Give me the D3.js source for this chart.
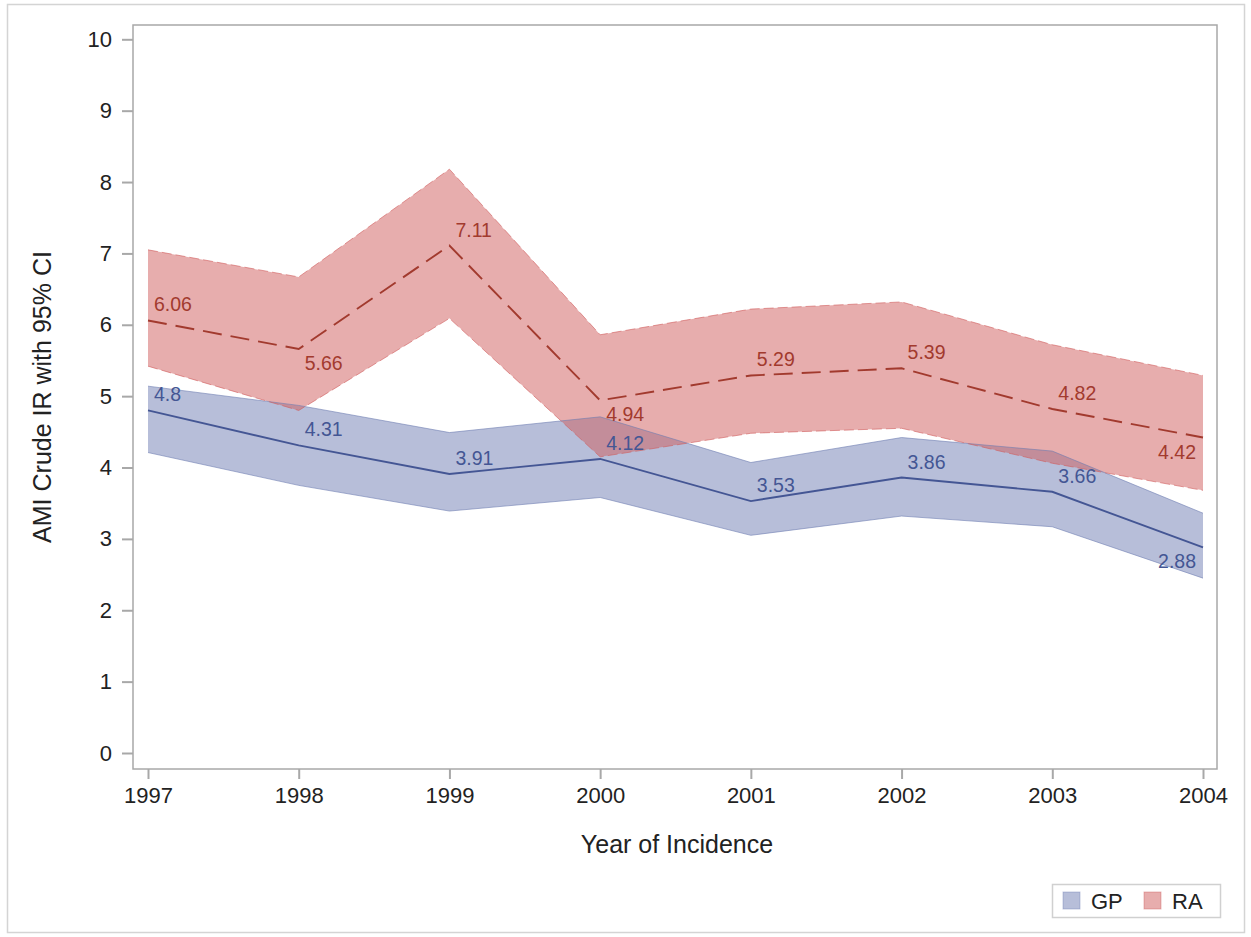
<!DOCTYPE html>
<html><head><meta charset="utf-8">
<script src="https://cdn.jsdelivr.net/npm/d3@7/dist/d3.min.js"></script>
<style>body{margin:0;background:#fff;} text{font-family:"Liberation Sans",Arial,sans-serif;}</style>
</head><body>
<svg id="c" width="1251" height="937"></svg>
<script>
const years = [1997, 1998, 1999, 2000, 2001, 2002, 2003, 2004];
const gpRate  = [4.8, 4.31, 3.91, 4.12, 3.53, 3.86, 3.66, 2.88];
const gpLower = [4.21, 3.75, 3.39, 3.58, 3.05, 3.32, 3.17, 2.45];
const gpUpper = [5.14, 4.87, 4.49, 4.71, 4.07, 4.42, 4.23, 3.36];
const raRate  = [6.06, 5.66, 7.11, 4.94, 5.29, 5.39, 4.82, 4.42];
const raLower = [5.42, 4.80, 6.09, 4.15, 4.48, 4.55, 4.06, 3.68];
const raUpper = [7.05, 6.67, 8.18, 5.86, 6.22, 6.32, 5.72, 5.29];
const gpLabelPos = ["above","above","above","above","above","above","above","belowLeft"];
const raLabelPos = ["above","below","above","below","above","above","above","belowLeft"];
const yTicks = [0,1,2,3,4,5,6,7,8,9,10];
const seriesNames = ["GP","RA"];

const svg = d3.select("#c");
const L = 133, T = 25, R = 1217, B = 769;

svg.append("rect").attr("x",7.5).attr("y",4.5).attr("width",1237).attr("height",928)
  .attr("fill","none").attr("stroke","#d4d4d4").attr("stroke-width",1.5);

const x = d3.scaleLinear().domain([1997,2004]).range([148,1203]);
const y = d3.scaleLinear().domain([0,10]).range([753,39.3]);

const series = [
  {name:"GP", rate:gpRate, lo:gpLower, hi:gpUpper, fill:"#6F7EB3", line:"#445694", dash:null, lab:gpLabelPos},
  {name:"RA", rate:raRate, lo:raLower, hi:raUpper, fill:"#D05B5B", line:"#A23A2E", dash:"19,9", lab:raLabelPos}
];

const area = d3.area().x((d,i)=>x(years[i])).y0(d=>y(d[0])).y1(d=>y(d[1]));
const line = d3.line().x((d,i)=>x(years[i])).y(d=>y(d));

series.forEach(s=>{
  const pts = s.lo.map((v,i)=>[v,s.hi[i]]);
  svg.append("path").attr("d",area(pts)).attr("fill",s.fill).attr("fill-opacity",0.5);
});
series.forEach(s=>{
  [s.lo, s.hi].forEach(arr=>{
    svg.append("path").attr("d",line(arr)).attr("fill","none").attr("stroke",s.fill).attr("stroke-opacity",0.6)
      .attr("stroke-width",1).attr("stroke-dasharray", s.dash ? "10,4" : null);
  });
});
series.forEach(s=>{
  svg.append("path").attr("d",line(s.rate)).attr("fill","none").attr("stroke",s.line)
    .attr("stroke-width",1.9).attr("stroke-dasharray",s.dash);
});
series.forEach(s=>{
  s.rate.forEach((v,i)=>{
    const p = s.lab[i];
    const px = x(years[i]), py = y(v);
    const t = svg.append("text").attr("fill",s.line).attr("font-size",19.5).text(String(v));
    if(p==="above"){ t.attr("x",px+6).attr("y",py-9); }
    else if(p==="below"){ t.attr("x",px+6).attr("y",py+21); }
    else { t.attr("x",px-7).attr("y",py+21).attr("text-anchor","end"); }
  });
});

// frame
svg.append("rect").attr("x",L).attr("y",T).attr("width",R-L).attr("height",B-T)
  .attr("fill","none").attr("stroke","#a8a8a8").attr("stroke-width",1.5);

// y axis
const ya = svg.append("g").attr("transform",`translate(${L},0)`)
  .call(d3.axisLeft(y).tickValues(yTicks).tickSize(11).tickPadding(10).tickFormat(d3.format("d")));
ya.select(".domain").remove();
ya.selectAll("line").attr("stroke","#a8a8a8").attr("stroke-width",2);
ya.selectAll("text").attr("font-size",22).attr("fill","#222").attr("font-family","Liberation Sans, Arial, sans-serif");

// x axis
const xa = svg.append("g").attr("transform",`translate(0,${B})`)
  .call(d3.axisBottom(x).tickValues(years).tickSize(10).tickPadding(8).tickFormat(d3.format("d")));
xa.select(".domain").remove();
xa.selectAll("line").attr("stroke","#a8a8a8").attr("stroke-width",2);
xa.selectAll("text").attr("font-size",22).attr("fill","#222").attr("font-family","Liberation Sans, Arial, sans-serif");

svg.append("text").attr("x",(L+R)/2+2).attr("y",853).attr("text-anchor","middle")
  .attr("font-size",25).attr("fill","#222").text("Year of Incidence");
svg.append("text").attr("transform",`translate(51,397) rotate(-90)`).attr("text-anchor","middle")
  .attr("font-size",25).attr("fill","#222").text("AMI Crude IR with 95% CI");

// legend
const lg = svg.append("g");
lg.append("rect").attr("x",1052.5).attr("y",884.5).attr("width",168).attr("height",33)
  .attr("fill","#fff").attr("stroke","#d0d0d0").attr("stroke-width",1.5);
const legX = [1063, 1144];
series.forEach((s,i)=>{
  lg.append("rect").attr("x",legX[i]).attr("y",892).attr("width",17).attr("height",17)
    .attr("fill",s.fill).attr("fill-opacity",0.5).attr("stroke",s.fill).attr("stroke-opacity",0.4);
  lg.append("text").attr("x",legX[i]+28).attr("y",909).attr("font-size",22).attr("fill","#222").text(seriesNames[i]);
});
</script>
</body></html>
